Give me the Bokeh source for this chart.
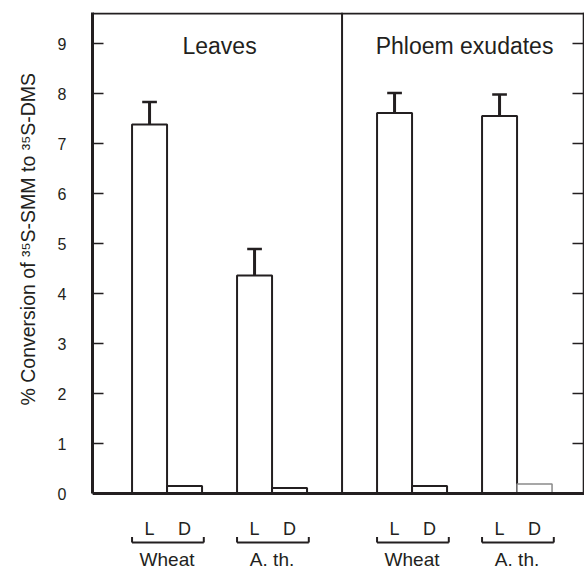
from bokeh.plotting import figure
from bokeh.models import Range1d, Span, FixedTicker, ColumnDataSource, LinearAxis, Title
from bokeh.core.properties import value
from bokeh.embed import file_html
from bokeh.resources import INLINE

# ---- data ----
panels = ["Leaves", "Phloem exudates"]
species = ["Wheat", "A. th.", "Wheat", "A. th."]
panel_of = [0, 0, 1, 1]
light = [7.38, 4.36, 7.61, 7.55]
light_err = [0.45, 0.53, 0.40, 0.43]
dark = [0.15, 0.11, 0.15, 0.19]
cond_labels = ["L", "D"]
y_ticks = [0, 1, 2, 3, 4, 5, 6, 7, 8, 9]
y_label = "% Conversion of \u00b3\u2075S-SMM to \u00b3\u2075S-DMS"

INK = "#231f20"
FONT = "Liberation Sans"

# ---- layout helpers ----
pair_x = [i * 3 + panel_of[i] for i in range(len(species))]
PX = 35.0            # pixels per x unit
x_start = -1.63
x_end = x_start + (584 - 92) / PX
y_top, y_bot = 9.62, -1.54

p = figure(width=584, height=570, output_backend="svg", toolbar_location=None,
           x_range=Range1d(x_start, x_end), y_range=Range1d(y_bot, y_top),
           x_axis_location=None, y_axis_location=None,
           min_border_left=92, min_border_right=0, min_border_top=12, min_border_bottom=0)
p.outline_line_color = None
p.xgrid.visible = False
p.ygrid.visible = False
p.background_fill_color = "white"
p.border_fill_color = "white"

yaxis = LinearAxis(bounds=(0, y_top), ticker=FixedTicker(ticks=y_ticks))
yaxis.axis_line_color = INK
yaxis.axis_line_width = 3
yaxis.major_tick_in = 11
yaxis.major_tick_out = 0
yaxis.major_tick_line_width = 1.5
yaxis.major_tick_line_color = INK
yaxis.minor_tick_line_color = None
yaxis.major_label_standoff = 26
yaxis.major_label_text_font = FONT
yaxis.major_label_text_font_size = "16px"
yaxis.major_label_text_color = INK
p.add_layout(yaxis, "left")

ytitle = Title(text=y_label, align="left", offset=165, vertical_align="top",
               standoff=28, text_font=FONT, text_font_size="19.5px",
               text_font_style="normal", text_color=INK)
p.add_layout(ytitle, "left")

# frame lines
p.add_layout(Span(location=0, dimension="width", line_color=INK, line_width=3))
p.add_layout(Span(location=y_top - 0.02, dimension="width", line_color=INK, line_width=2.2))
div_x = (pair_x[1] + 1 + pair_x[2]) / 2.0
p.segment(x0=[div_x], y0=[0], x1=[div_x], y1=[y_top], line_color=INK, line_width=2)
rx = x_end - 0.03
p.segment(x0=[rx], y0=[0], x1=[rx], y1=[y_top], line_color=INK, line_width=1.5)
p.segment(x0=[x_end - 12 / PX] * 9, y0=y_ticks[1:], x1=[x_end] * 9, y1=y_ticks[1:],
          line_color=INK, line_width=1.5)

# bars
bx, btop, bcol, bw = [], [], [], []
for i in range(len(species)):
    bx += [pair_x[i], pair_x[i] + 1]
    btop += [light[i], dark[i]]
    last = (i == len(species) - 1)
    bcol += [INK, "#8a8a8a" if last else INK]
    bw += [2, 1.5 if last else 2]
src = ColumnDataSource(dict(x=bx, top=btop, color=bcol, lw=bw))
p.vbar(x="x", top="top", bottom=0, width=1.0, source=src, fill_color="white",
       line_color="color", line_width="lw")

# error bars (upper only)
err_top = [light[i] + light_err[i] for i in range(len(light))]
p.segment(x0=pair_x, y0=light, x1=pair_x, y1=err_top, line_color=INK, line_width=3)
p.segment(x0=[x - 0.21 for x in pair_x], y0=err_top, x1=[x + 0.21 for x in pair_x], y1=err_top,
          line_color=INK, line_width=2.5)

# panel titles
p.text(x=[2, 9], y=[8.96, 8.96], text=panels, text_font=value(FONT), text_font_size="23px",
       text_align="center", text_baseline="alphabetic", text_color=INK)

# bottom labels
lx, lt = [], []
for i in range(len(species)):
    lx += [pair_x[i], pair_x[i] + 1]
    lt += cond_labels
p.text(x=lx, y=[-0.70] * len(lx), text=lt, text_font=value(FONT), text_font_size="18px",
       text_align="center", text_baseline="alphabetic", text_color=INK)
bl = [x - 0.5 for x in pair_x]
br = [x + 1.55 for x in pair_x]
p.segment(x0=bl, y0=[-0.98] * 4, x1=br, y1=[-0.98] * 4, line_color=INK, line_width=2)
p.segment(x0=bl, y0=[-0.98] * 4, x1=bl, y1=[-0.87] * 4, line_color=INK, line_width=2)
p.segment(x0=br, y0=[-0.98] * 4, x1=br, y1=[-0.87] * 4, line_color=INK, line_width=2)
p.text(x=[x + 0.5 for x in pair_x], y=[-1.32] * 4, text=species, text_font=value(FONT),
       text_font_size="19px", text_align="center", text_baseline="alphabetic", text_color=INK)

open("out.html", "w").write(file_html(p, INLINE))
